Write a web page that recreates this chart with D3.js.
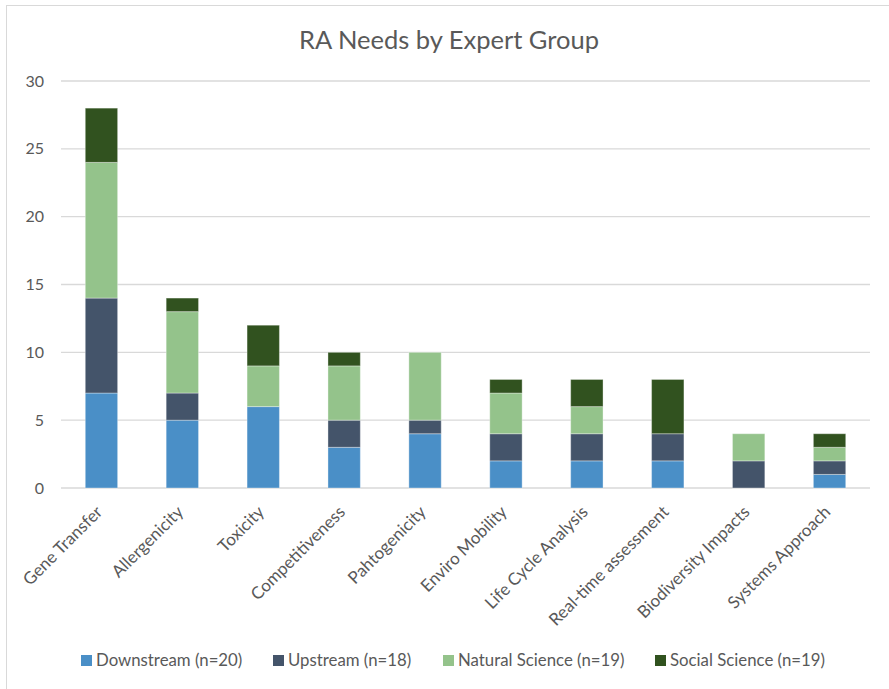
<!DOCTYPE html>
<html>
<head>
<meta charset="utf-8">
<script src="https://cdn.jsdelivr.net/npm/d3@7"></script>
<style>
  html, body { margin: 0; padding: 0; background: #fff; }
  svg { display: block; }
  text { font-family: Lato, "Open Sans", sans-serif; fill: #595959; }
</style>
</head>
<body>
<div id="chart"></div>
<script>
const categories = ["Gene Transfer", "Allergenicity", "Toxicity", "Competitiveness", "Pahtogenicity",
  "Enviro Mobility", "Life Cycle Analysis", "Real-time assessment", "Biodiversity Impacts", "Systems Approach"];
const seriesNames = ["Downstream (n=20)", "Upstream (n=18)", "Natural Science (n=19)", "Social Science (n=19)"];
const downstream     = [7, 5, 6, 3, 4, 2, 2, 2, 0, 1];
const upstream       = [7, 2, 0, 2, 1, 2, 2, 2, 2, 1];
const naturalScience = [10, 6, 3, 4, 5, 3, 2, 0, 2, 1];
const socialScience  = [4, 1, 3, 1, 0, 1, 2, 4, 0, 1];
const yTicks = [0, 5, 10, 15, 20, 25, 30];
const colors = ["#4A8FC7", "#44546A", "#94C38B", "#31521F"];

const W = 889, H = 689;
const svg = d3.select("#chart").append("svg").attr("width", W).attr("height", H);

// chart border (top/left visible)
svg.append("rect").attr("x", 6.5).attr("y", 5.5).attr("width", W + 20).attr("height", H + 20)
  .attr("fill", "none").attr("stroke", "#d9d9d9").attr("stroke-width", 1);

const plot = { left: 61, right: 870, top: 81, bottom: 488 };

const x = d3.scaleBand().domain(categories).range([plot.left, plot.right]).paddingInner(0.6).paddingOuter(0.3);
const y = d3.scaleLinear().domain([0, 30]).range([plot.bottom, plot.top]);

// title
svg.append("text").attr("x", 449).attr("y", 49).attr("text-anchor", "middle")
  .style("font-size", "25.5px").text("RA Needs by Expert Group");

// gridlines
svg.append("g").selectAll("line").data(yTicks).join("line")
  .attr("x1", plot.left).attr("x2", plot.right)
  .attr("y1", d => y(d)).attr("y2", d => y(d))
  .attr("stroke", "#d9d9d9").attr("stroke-width", 1.3);

// y axis labels
const yAxis = d3.axisLeft(y).tickValues(yTicks).tickSize(0).tickPadding(0);
const yg = svg.append("g").attr("transform", `translate(${plot.left - 17},0)`).call(yAxis);
yg.select(".domain").remove();
yg.selectAll("text").style("font-size", "16px").attr("fill", "#595959").style("font-family", "Lato, sans-serif");

// stacks
const table = categories.map((c, i) => ({
  cat: c, s0: downstream[i], s1: upstream[i], s2: naturalScience[i], s3: socialScience[i]
}));
const stack = d3.stack().keys(["s0", "s1", "s2", "s3"]);
const layers = stack(table);

svg.append("g").selectAll("g").data(layers).join("g")
  .attr("fill", (d, i) => colors[i])
  .selectAll("rect").data(d => d.filter(v => v[1] - v[0] > 0)).join("rect")
  .attr("x", d => x(d.data.cat))
  .attr("width", x.bandwidth())
  .attr("y", d => y(d[1]))
  .attr("height", d => y(d[0]) - y(d[1]))
  .attr("stroke", "#ffffff").attr("stroke-opacity", 0.35).attr("stroke-width", 1);

// x axis labels
const xAxis = d3.axisBottom(x).tickSize(0).tickPadding(0);
const xg = svg.append("g").attr("transform", `translate(0,${plot.bottom})`).call(xAxis);
xg.select(".domain").remove();
xg.selectAll("text")
  .style("font-size", "17px").style("font-family", "Lato, sans-serif").attr("fill", "#595959")
  .attr("text-anchor", "end").attr("dy", null).attr("y", 0)
  .attr("transform", "translate(2,25) rotate(-45)");

// legend
const legendX = [81, 273, 443, 655];
const lg = svg.append("g");
seriesNames.forEach((name, i) => {
  lg.append("rect").attr("x", legendX[i]).attr("y", 655).attr("width", 11).attr("height", 11).attr("fill", colors[i]);
  lg.append("text").attr("x", legendX[i] + 15).attr("y", 666).style("font-size", "16.8px").text(name);
});
</script>
</body>
</html>
